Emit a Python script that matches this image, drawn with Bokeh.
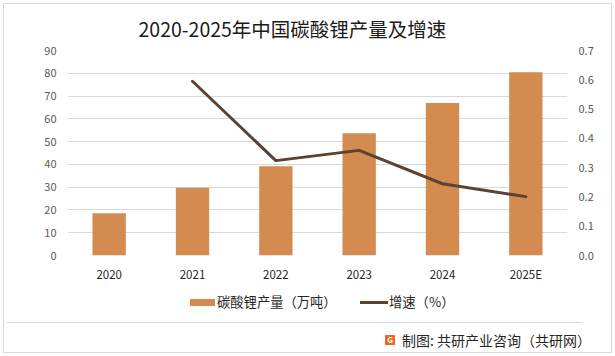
from bokeh.plotting import figure
from bokeh.layouts import column
from bokeh.models import (Range1d, LinearAxis, FixedTicker, NumeralTickFormatter,
                          FactorRange, Div)
from bokeh.embed import file_html
from bokeh.resources import INLINE

# ---- data ----
years = ["2020", "2021", "2022", "2023", "2024", "2025E"]
production = [18.6, 29.7, 39.2, 53.7, 66.9, 80.5]          # 万吨
growth_years = ["2021", "2022", "2023", "2024", "2025E"]
growth = [0.595, 0.324, 0.359, 0.245, 0.201]               # 增速
left_ticks = [0, 10, 20, 30, 40, 50, 60, 70, 80, 90]
right_ticks = [0.0, 0.1, 0.2, 0.3, 0.4, 0.5, 0.6, 0.7]

title_text = "2020-2025年中国碳酸锂产量及增速"
bar_label = "碳酸锂产量（万吨）"
line_label = "增速（%）"
source_text = "制图: 共研产业咨询（共研网）"

FONT = "Noto Sans CJK SC"
BAR_COLOR = "#D48B4F"
LINE_COLOR = "#5C4331"
GRID = "#D9D9D9"

# ---------------- main chart ----------------
p = figure(width=615, height=290,
           x_range=FactorRange(*years, range_padding=0),
           y_range=Range1d(0, 90),
           output_backend="svg", toolbar_location=None,
           min_border_left=67, min_border_right=48,
           min_border_top=50, min_border_bottom=35, margin=0)
p.outline_line_color = None
p.background_fill_alpha = 0
p.border_fill_alpha = 0

p.title.text = title_text
p.title.align = "left"
p.title.offset = 71
p.title.standoff = 15
p.title.text_font = FONT
p.title.text_font_size = "19.5px"
p.title.text_font_style = "normal"
p.title.text_color = "#1a1a1a"

p.extra_y_ranges = {"g": Range1d(0, 0.7)}

bars = p.vbar(x=years, top=production, width=0.4, color=BAR_COLOR, line_color=None)
line = p.line(x=growth_years, y=growth, y_range_name="g",
              line_color=LINE_COLOR, line_width=3, line_join="round", line_cap="round")

p.xgrid.grid_line_color = None
p.ygrid.grid_line_color = GRID
p.ygrid.ticker = FixedTicker(ticks=left_ticks)

ya = p.yaxis[0]
ya.ticker = FixedTicker(ticks=left_ticks)
ra = LinearAxis(y_range_name="g", ticker=FixedTicker(ticks=right_ticks),
                formatter=NumeralTickFormatter(format="0.0"))
p.add_layout(ra, "right")
xa = p.xaxis[0]
for ax in (ya, ra, xa):
    ax.axis_line_color = None
    ax.major_tick_line_color = None
    ax.minor_tick_line_color = None
    ax.major_tick_out = 0
    ax.major_tick_in = 0
    ax.minor_tick_out = 0
    ax.minor_tick_in = 0
    ax.major_label_text_font = FONT
for ax in (ya, ra):
    ax.major_label_standoff = 11
    ax.major_label_text_font_size = "11px"
    ax.major_label_text_color = "#595959"
xa.major_label_standoff = 10
xa.major_label_text_font_size = "11.5px"
xa.major_label_text_color = "#262626"

# ---------------- footer: legend, divider, source ----------------
footer_html = (
    '<div style="position:relative;width:615px;height:66px;font-family:\'Noto Sans CJK SC\';'
    'color:#262626;">'
    # legend item 1
    f'<div style="position:absolute;left:190px;top:9px;width:25px;height:7px;background:{BAR_COLOR};"></div>'
    f'<div style="position:absolute;left:217px;top:3px;font-size:13.3px;line-height:18px;white-space:nowrap;">{bar_label}</div>'
    # legend item 2
    f'<div style="position:absolute;left:360px;top:11px;width:28px;height:3px;background:{LINE_COLOR};"></div>'
    f'<div style="position:absolute;left:389px;top:3px;font-size:13.3px;line-height:18px;white-space:nowrap;">{line_label}</div>'
    # divider
    '<div style="position:absolute;left:7px;top:32px;width:575px;height:1px;background:#d9d9d9;"></div>'
    # logo + source
    '<div style="position:absolute;left:385px;top:45px;width:10px;height:10px;background:#EE6A24;'
    'color:#fff;font-size:8px;font-weight:bold;line-height:10px;text-align:center;">G</div>'
    f'<div style="position:absolute;left:402px;top:41px;font-size:14px;line-height:18px;white-space:nowrap;">{source_text}</div>'
    '</div>'
)
footer = Div(text=footer_html, width=615, height=66, margin=0)

layout = column(p, footer, spacing=0, width=615, height=356, margin=0,
                styles={"outline": "1px solid #d9d9d9", "outline-offset": "-4px"})

open("out.html", "w").write(file_html(layout, INLINE))
